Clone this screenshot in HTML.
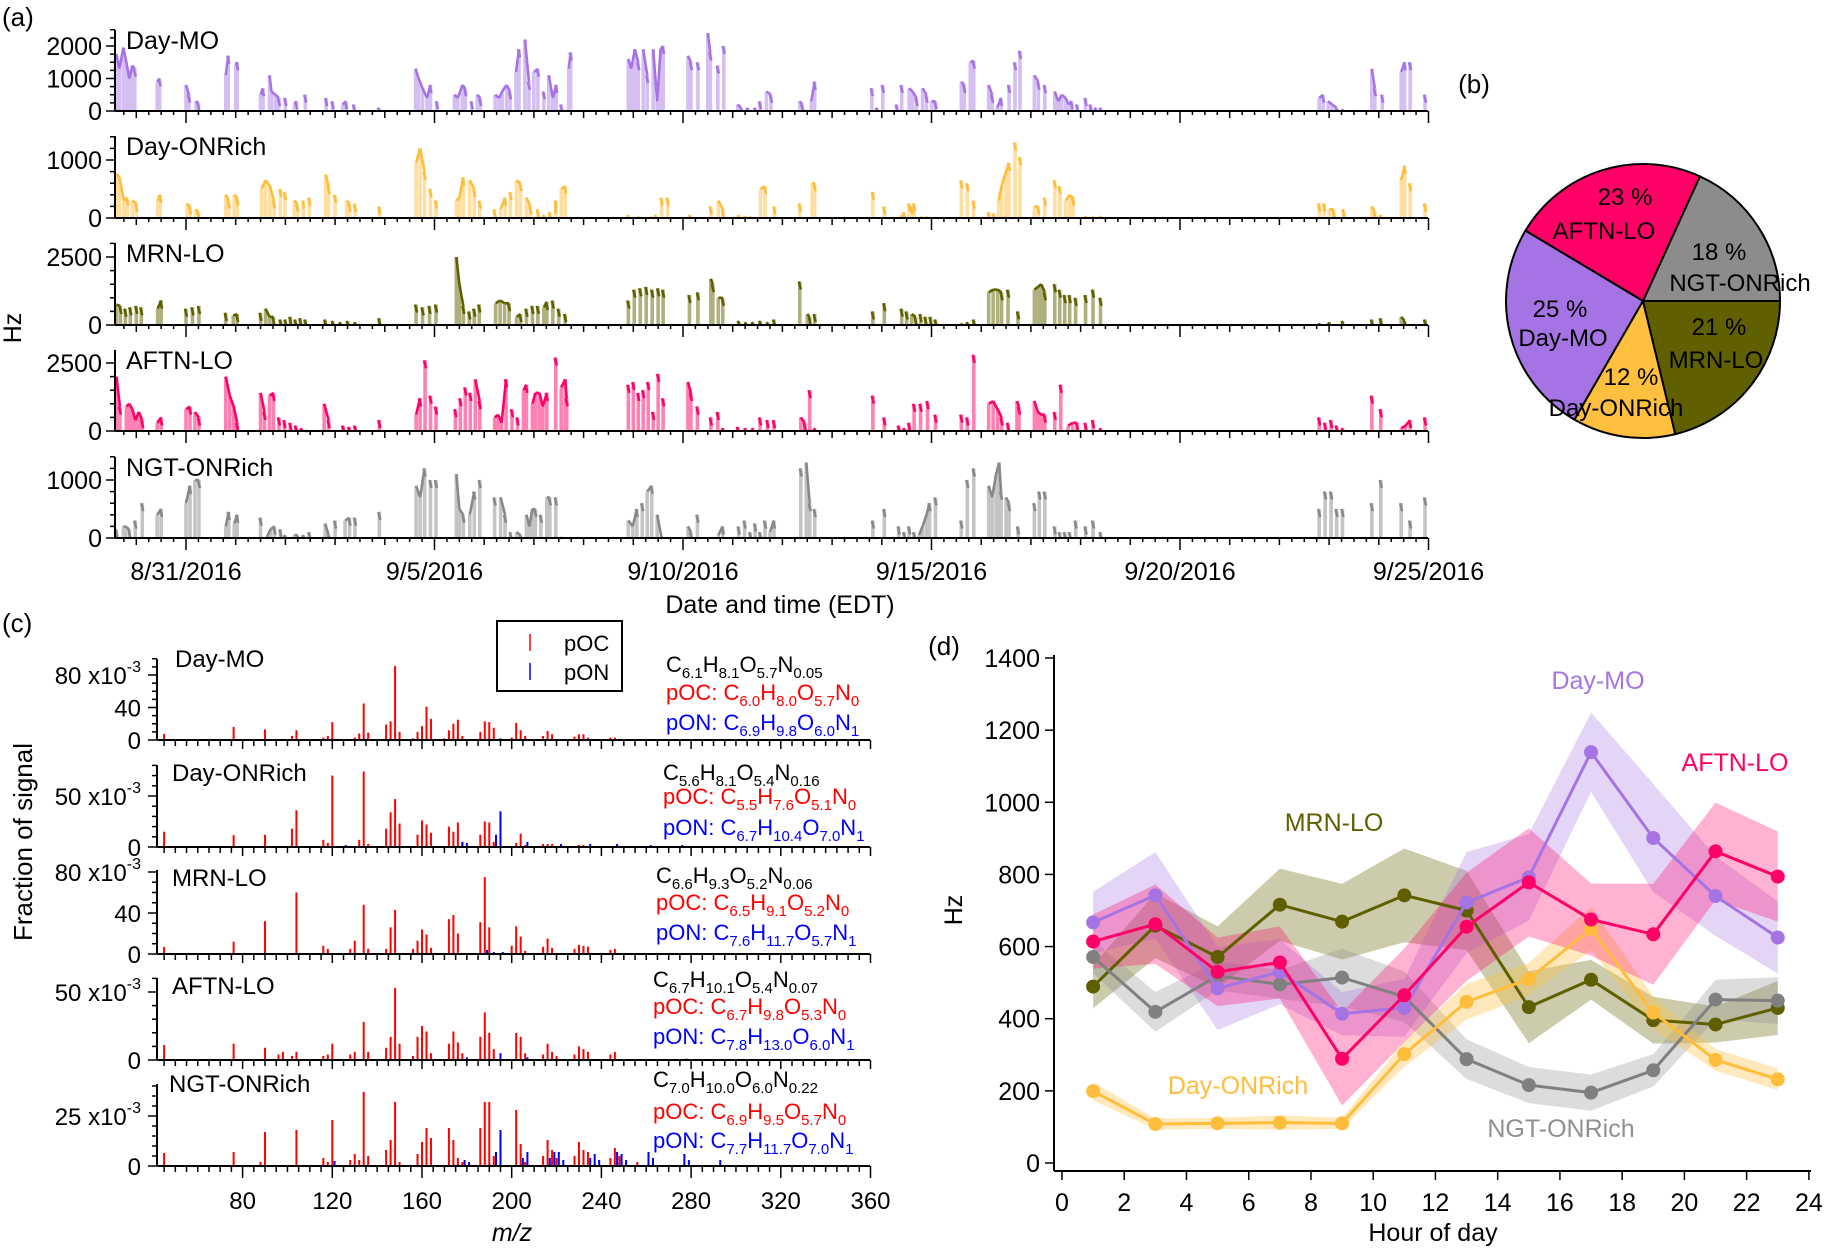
<!DOCTYPE html>
<html><head><meta charset="utf-8"><style>
html,body{margin:0;padding:0;background:#fff}
svg{display:block;font-family:"Liberation Sans",Arial,sans-serif}
</style></head><body>
<svg id="fig" width="1824" height="1248" viewBox="0 0 1824 1248">
<g id="pa"></g>
<g id="pb"></g>
<g id="pc"></g>
<g id="pd"></g>
<g font-size="26" fill="#000">
<text x="2" y="26">(a)</text>
<text x="1474" y="93" text-anchor="middle">(b)</text>
<text x="2" y="632">(c)</text>
<text x="944" y="655" text-anchor="middle">(d)</text>
</g>
</svg>
<script>
// ---------- Panel (a) data: [day since 8/29 00:00, Hz] ----------
const aDayMO=[[0.60,1750],[0.66,1300],[0.74,1950],[0.80,1500],[0.86,1000],[0.92,1400],[0.97,1300],[1.42,900],[1.47,1000],[2.00,800],[2.06,500],[2.20,300],[2.25,250],[2.80,1100],[2.85,1700],[3.00,1400],[3.03,1500],[3.50,500],[3.55,700],[3.68,1100],[3.72,600],[3.80,500],[3.87,400],[4.00,400],[4.18,200],[4.22,300],[4.40,500],[4.82,400],[4.95,300],[5.15,200],[5.22,300],[5.38,200],[5.88,100],[6.62,1300],[6.68,1000],[6.76,700],[6.85,400],[6.92,800],[7.05,300],[7.40,500],[7.47,400],[7.56,800],[7.62,700],[7.75,300],[7.86,500],[7.92,400],[8.22,500],[8.30,400],[8.36,600],[8.45,800],[8.52,600],[8.64,1200],[8.70,1900],[8.82,2200],[8.90,900],[9.00,1200],[9.08,1300],[9.20,600],[9.30,1100],[9.38,400],[9.45,800],[9.55,200],[9.70,1300],[9.74,1800],[10.90,1600],[10.96,1300],[11.03,1900],[11.10,1500],[11.20,1900],[11.28,1100],[11.40,1900],[11.48,300],[11.55,1900],[11.60,2000],[12.10,1700],[12.16,1500],[12.30,1500],[12.50,2400],[12.55,1800],[12.70,1400],[12.82,2000],[13.10,200],[13.17,100],[13.30,100],[13.45,100],[13.55,300],[13.68,600],[13.77,500],[14.35,300],[14.40,200],[14.58,300],[14.65,900],[15.80,700],[15.90,100],[16.02,800],[16.30,200],[16.40,800],[16.55,700],[16.62,600],[16.70,400],[16.82,700],[16.90,500],[17.00,300],[17.08,300],[17.60,900],[17.66,800],[17.78,1500],[17.85,1550],[18.15,800],[18.22,500],[18.32,100],[18.40,400],[18.56,800],[18.68,1500],[18.78,1850],[19.07,1100],[19.15,900],[19.28,800],[19.48,600],[19.55,300],[19.62,500],[19.70,400],[19.76,200],[19.82,300],[19.93,200],[20.10,400],[20.20,200],[20.30,100],[20.40,100],[24.80,400],[24.88,500],[24.98,300],[25.06,200],[25.15,100],[25.27,50],[25.86,1300],[25.92,700],[26.07,500],[26.45,1200],[26.52,1500],[26.63,1500],[26.93,500]];
const aDayONRich=[[0.60,760],[0.66,700],[0.75,300],[0.82,350],[0.92,300],[1.00,250],[1.43,300],[1.48,400],[2.02,250],[2.08,200],[2.20,150],[2.25,100],[2.80,400],[2.86,300],[2.97,400],[3.03,350],[3.52,500],[3.60,650],[3.69,550],[3.77,300],[3.90,500],[3.99,450],[4.18,300],[4.24,250],[4.36,300],[4.48,350],[4.81,750],[4.87,550],[5.00,400],[5.23,300],[5.29,250],[5.40,250],[5.89,200],[6.63,950],[6.71,1200],[6.80,800],[6.92,500],[7.03,300],[7.44,300],[7.50,350],[7.58,700],[7.71,650],[7.80,500],[7.91,300],[8.21,150],[8.33,150],[8.42,350],[8.53,450],[8.65,650],[8.73,600],[8.85,350],[8.93,200],[9.08,150],[9.20,50],[9.32,100],[9.43,80],[9.44,300],[9.55,500],[9.63,550],[10.90,50],[11.10,20],[11.35,10],[11.45,50],[11.57,350],[11.69,350],[12.13,50],[12.56,200],[12.71,300],[12.80,150],[13.12,50],[13.25,30],[13.35,20],[13.56,500],[13.65,550],[13.84,200],[14.35,250],[14.60,600],[14.65,600],[15.82,450],[16.05,200],[16.40,50],[16.60,200],[16.45,100],[16.55,250],[16.65,250],[16.80,20],[16.90,20],[17.60,650],[17.72,600],[17.85,300],[18.15,100],[18.25,80],[18.35,300],[18.41,550],[18.50,800],[18.56,950],[18.68,1300],[18.78,1050],[19.07,200],[19.15,200],[19.28,350],[19.48,650],[19.58,550],[19.70,300],[19.78,400],[19.85,350],[20.10,30],[20.25,20],[20.40,30],[24.80,250],[24.90,250],[25.00,150],[25.09,150],[25.29,150],[25.86,200],[25.92,100],[26.04,50],[26.45,650],[26.52,900],[26.63,600],[26.93,250]];
const aMRNLO=[[0.60,750],[0.68,700],[0.78,600],[0.88,650],[1.00,700],[1.10,650],[1.43,600],[1.50,900],[2.00,600],[2.13,650],[2.26,700],[2.80,450],[2.95,350],[3.03,400],[3.50,450],[3.60,600],[3.68,300],[3.76,300],[3.90,200],[4.00,200],[4.10,300],[4.20,200],[4.30,250],[4.40,200],[4.80,200],[4.95,150],[5.10,100],[5.25,150],[5.40,100],[5.89,250],[6.63,750],[6.76,650],[6.90,700],[7.03,750],[7.44,2500],[7.50,1500],[7.58,700],[7.70,500],[7.80,600],[7.90,750],[8.23,800],[8.32,900],[8.41,800],[8.50,800],[8.65,300],[8.73,400],[8.85,600],[8.97,700],[9.08,700],[9.20,650],[9.26,850],[9.38,900],[9.50,600],[9.63,400],[10.90,900],[11.02,1300],[11.14,1350],[11.26,1400],[11.38,1300],[11.50,1350],[11.60,1300],[12.13,1100],[12.30,1200],[12.56,1700],[12.60,1500],[12.71,1000],[12.80,1000],[13.12,150],[13.26,100],[13.40,100],[13.55,150],[13.70,100],[13.83,200],[14.35,1600],[14.50,400],[14.55,300],[14.65,400],[15.82,500],[16.05,800],[16.40,600],[16.50,500],[16.60,400],[16.68,300],[16.78,400],[16.88,300],[16.98,300],[17.08,200],[17.60,50],[17.72,100],[17.85,200],[18.15,1200],[18.24,1300],[18.33,1300],[18.41,1200],[18.54,1300],[18.74,500],[19.07,1300],[19.14,1400],[19.21,1500],[19.28,1200],[19.48,1500],[19.58,1300],[19.68,1100],[19.78,1100],[19.90,1000],[20.10,1100],[20.25,1300],[20.40,1000],[24.80,50],[25.00,100],[25.27,150],[25.86,200],[26.04,250],[26.45,300],[26.52,150],[26.93,200]];
const aAFTNLO=[[0.60,2000],[0.67,900],[0.80,900],[0.86,1000],[0.92,800],[0.98,400],[1.05,700],[1.12,400],[1.42,300],[1.50,500],[2.00,800],[2.08,900],[2.18,700],[2.26,500],[2.80,2000],[2.88,1300],[2.96,900],[3.03,300],[3.50,1400],[3.58,700],[3.68,1300],[3.76,1400],[3.87,500],[3.98,400],[4.10,300],[4.21,200],[4.32,100],[4.42,0],[4.78,1000],[4.87,400],[5.16,200],[5.28,150],[5.40,200],[5.89,400],[6.63,600],[6.71,1200],[6.81,2600],[6.92,1300],[7.03,900],[7.42,800],[7.52,1200],[7.62,1600],[7.72,1400],[7.82,1900],[7.91,1100],[8.21,500],[8.28,600],[8.35,300],[8.44,1900],[8.56,800],[8.67,500],[8.79,1500],[8.85,1700],[8.97,1000],[9.03,1400],[9.11,1400],[9.18,900],[9.26,1400],[9.44,2700],[9.55,1600],[9.63,1900],[9.66,1200],[10.90,1700],[11.00,1800],[11.10,1400],[11.20,1500],[11.30,1800],[11.40,700],[11.50,2100],[11.60,1200],[12.10,1800],[12.16,1400],[12.29,900],[12.56,500],[12.70,700],[12.80,100],[13.10,150],[13.25,100],[13.40,100],[13.55,500],[13.70,400],[13.83,400],[14.37,500],[14.45,300],[14.55,1500],[14.65,100],[15.82,1300],[16.05,500],[16.34,200],[16.45,100],[16.55,300],[16.65,1000],[16.78,1000],[16.92,1100],[17.08,600],[17.60,600],[17.72,500],[17.85,2800],[18.15,1000],[18.24,1100],[18.33,800],[18.41,500],[18.54,300],[18.72,1100],[18.76,900],[19.07,1100],[19.14,700],[19.21,600],[19.28,600],[19.48,700],[19.60,1700],[19.75,200],[19.84,300],[19.93,300],[20.10,300],[20.25,400],[20.40,100],[24.80,500],[24.92,300],[25.04,400],[25.15,200],[25.27,100],[25.86,1300],[26.04,800],[26.45,100],[26.54,200],[26.63,400],[26.93,500]];
const aNGTONRich=[[0.60,150],[0.74,200],[0.78,200],[0.86,150],[0.98,300],[1.12,600],[1.42,400],[1.50,500],[2.00,600],[2.08,900],[2.18,1000],[2.26,1000],[2.80,200],[2.86,450],[2.97,250],[3.03,400],[3.50,350],[3.62,0],[3.70,150],[3.78,200],[3.90,150],[3.99,50],[4.18,50],[4.24,50],[4.36,50],[4.48,100],[4.80,250],[4.87,50],[5.00,300],[5.20,300],[5.29,350],[5.40,350],[5.89,450],[6.63,900],[6.71,700],[6.80,1200],[6.92,1000],[7.03,1000],[7.44,1100],[7.50,500],[7.58,400],[7.71,400],[7.80,800],[7.91,1000],[8.21,700],[8.33,700],[8.42,400],[8.53,100],[8.65,100],[8.73,50],[8.85,400],[8.91,200],[8.97,500],[9.03,500],[9.14,400],[9.26,700],[9.32,700],[9.44,700],[9.55,0],[10.90,300],[10.99,200],[11.07,500],[11.18,600],[11.28,800],[11.37,900],[11.48,400],[11.57,0],[12.10,200],[12.16,100],[12.29,400],[12.71,50],[12.80,200],[13.12,200],[13.24,300],[13.35,100],[13.45,250],[13.55,100],[13.65,300],[13.75,100],[13.83,300],[14.37,1200],[14.48,1300],[14.55,600],[14.65,500],[15.82,300],[16.05,500],[16.34,200],[16.45,100],[16.55,200],[16.65,100],[16.75,50],[16.82,200],[16.90,400],[16.96,600],[17.08,700],[17.60,300],[17.72,1000],[17.85,1200],[18.15,900],[18.22,700],[18.30,1100],[18.36,1300],[18.40,800],[18.50,700],[18.56,600],[18.74,200],[19.07,600],[19.17,800],[19.28,800],[19.48,200],[19.58,100],[19.68,100],[19.78,100],[19.90,300],[20.10,200],[20.25,300],[20.40,100],[24.80,500],[24.92,800],[25.04,800],[25.15,500],[25.27,500],[25.86,600],[26.04,1000],[26.45,600],[26.63,300],[26.93,700]];
const aYTicks=[[0,1000,2000],[0,1000],[0,2500],[0,2500],[0,1000]];
const aDateLabels=["8/31/2016","9/5/2016","9/10/2016","9/15/2016","9/20/2016","9/25/2016"];
const aDateDays=[2,7,12,17,22,27];

// ---------- Panel (b) data ----------
const bNames=["NGT-ONRich","AFTN-LO","Day-MO","Day-ONRich","MRN-LO"];
const bPercent=[18,23,25,12,21];

// ---------- Panel (c) data: [m/z, fraction x1e-3] ----------
const cRedDayMO=[[45,7.5],[76,16],[90,13],[102,5],[104,12],[116,3],[118,5],[120,22],[130,3],[132,8],[134,45],[136,9],[144,19],[146,23],[148,91],[150,10],[156,2],[158,10],[160,17],[162,41],[164,26],[170,2],[172,12],[174,20],[176,25],[178,5],[186,10],[188,23],[190,22],[192,15],[200,3],[202,21],[204,12],[206,5],[214,5],[216,11],[218,7],[228,4],[230,7],[232,7],[234,3],[244,3],[246,3],[258,1],[262,1]];
const cBlueDayMO=[[195,2],[181,1],[209,1]];
const cRedDayONRich=[[45,15],[76,11.6],[90,12],[102,18],[104,36],[116,7],[118,4],[120,70],[132,7],[134,74],[136,3],[144,18],[146,34],[148,47],[150,23],[158,12],[160,26],[162,22],[164,14],[172,20],[174,15],[176,24],[178,5],[186,12],[188,25],[190,24],[192,5],[202,4],[204,13],[206,2],[214,3],[216,3],[218,3],[230,2],[232,2]];
const cBlueDayONRich=[[126,2],[178,5],[180,4],[193,12],[195,35],[207,5],[222,3],[235,3],[247,3],[262,2],[276,2],[290,1]];
const cRedMRNLO=[[45,7],[76,12],[90,32],[104,60],[116,8],[118,5],[128,5],[130,13],[134,48],[136,5],[144,5],[146,26],[148,43],[156,5],[158,13],[160,24],[162,19],[164,6],[172,34],[174,38],[176,20],[186,31],[188,75],[190,26],[200,8],[202,27],[204,17],[206,3],[214,7],[216,15],[218,6],[228,5],[230,9],[232,8],[234,7],[244,4],[246,5]];
const cBlueMRNLO=[[189,4],[192,2],[196,2]];
const cRedAFTNLO=[[45,11],[76,12],[90,9],[96,4],[98,6],[102,3],[104,6],[116,3],[118,4],[120,12],[128,4],[130,6],[134,28],[136,6],[144,9],[146,17],[148,53],[150,12],[156,3],[158,17],[160,25],[162,21],[164,5],[172,12],[174,21],[176,13],[178,5],[186,17],[188,35],[190,20],[192,8],[202,20],[204,17],[206,5],[214,4],[216,12],[218,6],[220,3],[228,4],[230,10],[232,8],[234,6],[244,4],[246,6]];
const cBlueAFTNLO=[[195,5],[180,2],[207,2],[278,1]];
const cRedNGTONRich=[[45,6.5],[76,7],[88,2],[90,17],[104,18],[116,4],[118,2],[120,23],[128,3],[130,6],[132,3],[134,37],[136,5],[144,8],[146,13],[148,32],[150,2],[158,6],[160,12],[162,19],[164,14],[172,19],[174,13],[176,4],[178,2],[186,19],[188,32],[190,32],[192,5],[202,28],[204,11],[206,2],[214,5],[216,13],[218,8],[220,4],[228,5],[230,12],[232,8],[234,7],[244,4],[246,9],[248,5],[256,2]];
const cBlueNGTONRich=[[121,2.5],[179,3],[181,2],[193,7],[195,18],[205,4],[207,7],[217,4],[219,7],[221,7],[223,3],[235,4],[237,6],[239,3],[247,7],[249,6],[251,3],[261,7],[263,4],[277,6],[279,3],[293,3]];
const cNames=["Day-MO","Day-ONRich","MRN-LO","AFTN-LO","NGT-ONRich"];
const cXTicks=[80,120,160,200,240,280,320,360];

// ---------- Panel (d) data ----------
const dHours=[1,3,5,7,9,11,13,15,17,19,21,23];
const dDayMO=[667,742,484,530,414,430,722,792,1139,901,740,625];
const dDayMOErr=[85,120,115,90,60,80,140,120,110,150,110,100];
const dAFTNLO=[614,662,530,556,289,465,655,778,675,634,864,794];
const dAFTNLOErr=[75,110,95,100,130,130,150,150,100,140,135,125];
const dMRNLO=[489,658,571,716,669,742,700,432,508,396,384,430];
const dMRNLOErr=[60,90,85,100,105,130,110,100,55,65,50,75];
const dNGTONRich=[571,419,519,495,514,461,288,216,195,257,453,450];
const dNGTONRichErr=[45,55,40,40,80,70,55,50,50,45,55,65];
const dDayONRich=[199,108,110,112,110,302,447,510,649,417,286,232];
const dDayONRichErr=[25,15,15,20,15,35,50,45,60,45,30,30];
const dYTicks=[0,200,400,600,800,1000,1200,1400];
const dXTicks=[0,2,4,6,8,10,12,14,16,18,20,22,24];

const NS="http://www.w3.org/2000/svg";
function mk(parent,tag,attrs,txt){const e=document.createElementNS(NS,tag);for(const k in attrs)e.setAttribute(k,attrs[k]);if(txt!==undefined)e.textContent=txt;parent.appendChild(e);return e;}

// ================= Panel (a) =================
(function(){
  const g=document.getElementById('pa');
  const X0=115,X1=1428;
  const ax=d=>186+(d-2)*49.7;
  const panels=[
    {name:"Day-MO",data:aDayMO,y0:111,ppu:65/2000,top:30,minor:250,light:"#d4bef2",dark:"#a673e4"},
    {name:"Day-ONRich",data:aDayONRich,y0:218,ppu:58/1000,top:136,minor:200,light:"#ffdea0",dark:"#ffbd3c"},
    {name:"MRN-LO",data:aMRNLO,y0:325,ppu:68/2500,top:243,minor:500,light:"#b0b07f",dark:"#5f5f00"},
    {name:"AFTN-LO",data:aAFTNLO,y0:431,ppu:68/2500,top:350,minor:500,light:"#ff80b3",dark:"#ff0066"},
    {name:"NGT-ONRich",data:aNGTONRich,y0:538,ppu:58/1000,top:457,minor:200,light:"#c4c4c4",dark:"#888888"}
  ];
  panels.forEach((p,i)=>{
    const pg=mk(g,'g',{});
    
    
    const ay=v=>p.y0-v*p.ppu;
    p.data.forEach(pt=>{
      const b=mk(pg,'rect',{x:ax(pt[0])-1.8,y:ay(pt[1]),width:3.6,height:Math.max(0,p.y0-ay(pt[1])),fill:p.light});
      
      
    });
    for(let k=0;k<p.data.length;k++){
      const a=p.data[k],n=p.data[k+1];
      if(n&&n[0]-a[0]<=0.09&&n[0]>a[0]){
        const l=mk(pg,'line',{x1:ax(a[0]),y1:ay(a[1]),x2:ax(n[0]),y2:ay(n[1]),stroke:p.dark,'stroke-width':2.6});
        
        
      } else {
        const l=mk(pg,'line',{x1:ax(a[0])-1,y1:ay(a[1]),x2:ax(a[0])+1,y2:Math.min(p.y0,ay(a[1])+8),stroke:p.dark,'stroke-width':2.6});
        
        
      }
    }
    mk(pg,'line',{x1:X0,y1:p.top,x2:X0,y2:p.y0,stroke:"#000",'stroke-width':2});
    mk(pg,'line',{x1:X0,y1:p.y0,x2:X1,y2:p.y0,stroke:"#000",'stroke-width':2});
    for(let v=0;ay(v)>=p.top-0.5;v+=p.minor){
      const major=aYTicks[i].includes(v);
      mk(pg,'line',{x1:X0-(major?9:5),y1:ay(v),x2:X0,y2:ay(v),stroke:"#000",'stroke-width':1.5});
    }
    aYTicks[i].forEach(v=>{
      const t=mk(pg,'text',{x:X0-13,y:ay(v)+9,'text-anchor':'end','font-size':25},String(v));
      
      
    });
    for(let d=0.75;d<=27.001;d+=0.25){
      const x=ax(d);const isDay=Math.abs(d-Math.round(d))<1e-6;
      const isMaj=isDay&&aDateDays.includes(Math.round(d));
      mk(pg,'line',{x1:x,y1:p.y0,x2:x,y2:p.y0+(isMaj?12:isDay?7:4),stroke:"#000",'stroke-width':1.5});
    }
    const lab=mk(pg,'text',{x:126,y:p.top+19,'font-size':25},p.name);
    
    
  });
  aDateLabels.forEach((s,i)=>{
    const t=mk(g,'text',{x:ax(aDateDays[i]),y:580,'text-anchor':'middle','font-size':25},s);
    
    
  });
  const xt=mk(g,'text',{x:780,y:613,'text-anchor':'middle','font-size':25},"Date and time (EDT)");
  
  
  const yt=mk(g,'text',{x:0,y:0,'text-anchor':'middle','font-size':25,transform:'translate(21,328) rotate(-90)'},"Hz");
  
  
})();

// ================= Panel (b) =================
(function(){
  const g=document.getElementById('pb');
  const cx=1643,cy=301,r=137;
  const cols=["#8c8c8c","#ff0066","#a673e4","#ffbf3f","#606000"];
  const total=bPercent.reduce((a,b)=>a+b,0);
  let a0=0;
  bPercent.forEach((p,i)=>{
    const a1=a0+p/total*2*Math.PI;
    const x0=cx+r*Math.cos(a0),y0=cy-r*Math.sin(a0),x1=cx+r*Math.cos(a1),y1=cy-r*Math.sin(a1);
    const large=(a1-a0)>Math.PI?1:0;
    const s=mk(g,'path',{d:`M${cx},${cy} L${x0},${y0} A${r},${r} 0 ${large} 0 ${x1},${y1} Z`,fill:cols[i],stroke:"#000",'stroke-width':2});
    
    
    a0=a1;
  });
  const labs=[[1719,251,1740,282],[1625,196,1604,230],[1560,308,1563,337],[1631,376,1616,407],[1719,326,1716,359]];
  bPercent.forEach((p,i)=>{
    const L=labs[i];
    const t1=mk(g,'text',{x:L[0],y:L[1]+9,'text-anchor':'middle','font-size':24},p+" %");
    
    
    const t2=mk(g,'text',{x:L[2],y:L[3]+9,'text-anchor':'middle','font-size':24},bNames[i]);
    
    
  });
})();

// ================= Panel (c) =================
(function(){
  const g=document.getElementById('pc');
  const X0=157,X1=870;
  const cx=mz=>242.6+(mz-80)*2.2425;
  const reds=[cRedDayMO,cRedDayONRich,cRedMRNLO,cRedAFTNLO,cRedNGTONRich];
  const blues=[cBlueDayMO,cBlueDayONRich,cBlueMRNLO,cBlueAFTNLO,cBlueNGTONRich];
  const rows=[
    {y0:740,ppu:65/80,top:659,minor:10,lab:[80,40,0]},
    {y0:847,ppu:51/50,top:765,minor:10,lab:[50,0]},
    {y0:954,ppu:82/80,top:870,minor:10,lab:[80,40,0]},
    {y0:1060,ppu:68/50,top:978,minor:10,lab:[50,0]},
    {y0:1166,ppu:50/25,top:1084,minor:5,lab:[25,0]}
  ];
  const labPos=[[175,667],[172,781],[172,886],[172,994],[169,1092]];
  rows.forEach((R,i)=>{
    const pg=mk(g,'g',{});
    
    
    const cy=v=>R.y0-v*R.ppu;
    reds[i].forEach(p=>{
      const b=mk(pg,'rect',{x:cx(p[0])-1,y:cy(p[1]),width:2,height:R.y0-cy(p[1]),fill:"#ff0000"});
      
      
    });
    blues[i].forEach(p=>{
      const b=mk(pg,'rect',{x:cx(p[0])-1,y:cy(p[1]),width:2,height:R.y0-cy(p[1]),fill:"#0000ff"});
      
      
    });
    mk(pg,'line',{x1:X0,y1:R.top,x2:X0,y2:R.y0,stroke:"#000",'stroke-width':2});
    mk(pg,'line',{x1:X0,y1:R.y0,x2:X1,y2:R.y0,stroke:"#000",'stroke-width':2});
    for(let v=0;cy(v)>=R.top-0.5;v+=R.minor){
      const maj=R.lab.includes(v);
      mk(pg,'line',{x1:X0-(maj?9:5),y1:cy(v),x2:X0,y2:cy(v),stroke:"#000",'stroke-width':1.5});
    }
    const topLab=Math.max(...R.lab);
    R.lab.forEach(v=>{
      const t=mk(pg,'text',{x:141,y:cy(v)+9,'text-anchor':'end','font-size':24});
      
      
      if(v!==topLab){t.textContent=String(v);}
      else{t.textContent=v+" x10";mk(t,'tspan',{dy:-12,'font-size':16},"-3");}
    });
    for(let m=45;m<=360;m+=5){
      const maj=m%40===0;
      mk(pg,'line',{x1:cx(m),y1:R.y0,x2:cx(m),y2:R.y0+(maj?(i===4?12:9):6),stroke:"#000",'stroke-width':1.5});
    }
    const l=mk(pg,'text',{x:labPos[i][0],y:labPos[i][1],'font-size':24},cNames[i]);
    
    
  });
  cXTicks.forEach(m=>{
    const t=mk(g,'text',{x:cx(m),y:1209,'text-anchor':'middle','font-size':24},String(m));
    
    
  });
  const xt=mk(g,'text',{x:512,y:1241,'text-anchor':'middle','font-size':25,'font-style':'italic'},"m/z");
  
  
  const yt=mk(g,'text',{x:0,y:0,'text-anchor':'middle','font-size':26,transform:'translate(32,842) rotate(-90)'},"Fraction of signal");
  
  
})();

// ================= Panel (d) =================
(function(){
  const g=document.getElementById('pd');
  const hx=h=>1062+h*31.12;
  const hy=v=>1163-v*505/1400;
  const series=[
    {n:"MRN-LO",v:dMRNLO,e:dMRNLOErr,c:"#5f5f00",f:"#5f5f00",o:0.32},
    {n:"NGT-ONRich",v:dNGTONRich,e:dNGTONRichErr,c:"#808080",f:"#8c8c8c",o:0.3},
    {n:"Day-ONRich",v:dDayONRich,e:dDayONRichErr,c:"#ffbd3c",f:"#ffbf3f",o:0.35},
    {n:"Day-MO",v:dDayMO,e:dDayMOErr,c:"#a673e4",f:"#a673e4",o:0.3},
    {n:"AFTN-LO",v:dAFTNLO,e:dAFTNLOErr,c:"#ff0066",f:"#ff0066",o:0.3}
  ];
  series.forEach(s=>{
    let up="",dn="";
    dHours.forEach((h,i)=>{up+=(i?"L":"M")+hx(h)+","+hy(s.v[i]+s.e[i]);});
    for(let i=dHours.length-1;i>=0;i--){dn+="L"+hx(dHours[i])+","+hy(s.v[i]-s.e[i]);}
    const b=mk(g,'path',{d:up+dn+"Z",fill:s.f,'fill-opacity':s.o,stroke:"none"});
    
    
  });
  series.forEach(s=>{
    const pts=dHours.map((h,i)=>hx(h)+","+hy(s.v[i])).join(" ");
    const l=mk(g,'polyline',{points:pts,fill:"none",stroke:s.c,'stroke-width':3});
    
    
    dHours.forEach((h,i)=>{
      const c=mk(g,'circle',{cx:hx(h),cy:hy(s.v[i]),r:7,fill:s.c});
      
      
    });
  });
  mk(g,'line',{x1:1054,y1:655,x2:1054,y2:1171,stroke:"#000",'stroke-width':2});
  mk(g,'line',{x1:1054,y1:1171,x2:1811,y2:1171,stroke:"#000",'stroke-width':2});
  dYTicks.forEach(v=>{
    mk(g,'line',{x1:1045,y1:hy(v),x2:1054,y2:hy(v),stroke:"#000",'stroke-width':1.5});
    const t=mk(g,'text',{x:1040,y:hy(v)+9,'text-anchor':'end','font-size':25},String(v));
    
    
  });
  dXTicks.forEach(h=>{
    mk(g,'line',{x1:hx(h),y1:1171,x2:hx(h),y2:1180,stroke:"#000",'stroke-width':1.5});
    const t=mk(g,'text',{x:hx(h),y:1211,'text-anchor':'middle','font-size':25},String(h));
    
    
  });
  const xt=mk(g,'text',{x:1433,y:1241,'text-anchor':'middle','font-size':25},"Hour of day");
  
  
  const yt=mk(g,'text',{x:0,y:0,'text-anchor':'middle','font-size':25,transform:'translate(962,910) rotate(-90)'},"Hz");
  
  
  const labs=[["Day-MO",1598,680,"#a673e4"],["AFTN-LO",1735,762,"#ff0066"],["MRN-LO",1334,822,"#5f5f00"],["Day-ONRich",1238,1085,"#ffbd3c"],["NGT-ONRich",1561,1128,"#909090"]];
  labs.forEach(L=>{
    const t=mk(g,'text',{x:L[1],y:L[2]+9,'text-anchor':'middle','font-size':25,fill:L[3]},L[0]);
    
    
  });
})();

// Panel (c) legend and formulas
(function(){
  const svg=document.getElementById('fig');
  const g=mk(svg,'g',{'font-size':22});
  
  
  const box=mk(g,'rect',{x:497,y:621,width:125,height:70,fill:"none",stroke:"#000",'stroke-width':2});
  
  
  mk(g,'line',{x1:530,y1:634,x2:530,y2:651,stroke:"#ff0000",'stroke-width':1.5});
  mk(g,'line',{x1:530,y1:663,x2:530,y2:680,stroke:"#0000ff",'stroke-width':1.5});
  const l1=mk(g,'text',{x:564,y:651},"pOC");
  
  
  const l2=mk(g,'text',{x:564,y:680},"pON");
  
  
  const F=[
    [666,[672,[["","C"],["6.1","H"],["8.1","O"],["5.7","N"],["0.05",""]],"#000",""],[700,[["","C"],["6.0","H"],["8.0","O"],["5.7","N"],["0",""]],"#ff0000","pOC: "],[730,[["","C"],["6.9","H"],["9.8","O"],["6.0","N"],["1",""]],"#0000ff","pON: "]],
    [663,[780,[["","C"],["5.6","H"],["8.1","O"],["5.4","N"],["0.16",""]],"#000",""],[804,[["","C"],["5.5","H"],["7.6","O"],["5.1","N"],["0",""]],"#ff0000","pOC: "],[835,[["","C"],["6.7","H"],["10.4","O"],["7.0","N"],["1",""]],"#0000ff","pON: "]],
    [656,[883,[["","C"],["6.6","H"],["9.3","O"],["5.2","N"],["0.06",""]],"#000",""],[910,[["","C"],["6.5","H"],["9.1","O"],["5.2","N"],["0",""]],"#ff0000","pOC: "],[940,[["","C"],["7.6","H"],["11.7","O"],["5.7","N"],["1",""]],"#0000ff","pON: "]],
    [653,[987,[["","C"],["6.7","H"],["10.1","O"],["5.4","N"],["0.07",""]],"#000",""],[1014,[["","C"],["6.7","H"],["9.8","O"],["5.3","N"],["0",""]],"#ff0000","pOC: "],[1044,[["","C"],["7.8","H"],["13.0","O"],["6.0","N"],["1",""]],"#0000ff","pON: "]],
    [653,[1087,[["","C"],["7.0","H"],["10.0","O"],["6.0","N"],["0.22",""]],"#000",""],[1119,[["","C"],["6.9","H"],["9.5","O"],["5.7","N"],["0",""]],"#ff0000","pOC: "],[1148,[["","C"],["7.7","H"],["11.7","O"],["7.0","N"],["1",""]],"#0000ff","pON: "]]
  ];
  F.forEach(row=>{
    const x=row[0];
    for(let k=1;k<=3;k++){
      const [y,parts,col,pre]=row[k];
      const t=mk(g,'text',{x:x,y:y,fill:col});
      
      
      mk(t,'tspan',{},pre);
      parts.forEach(p=>{
        if(p[0]!==""){mk(t,'tspan',{dy:6,'font-size':15},p[0]);if(p[1]!=="")mk(t,'tspan',{dy:-6},p[1]);}
        else mk(t,'tspan',{},p[1]);
      });
    }
  });
})();
</script>
</body></html>
